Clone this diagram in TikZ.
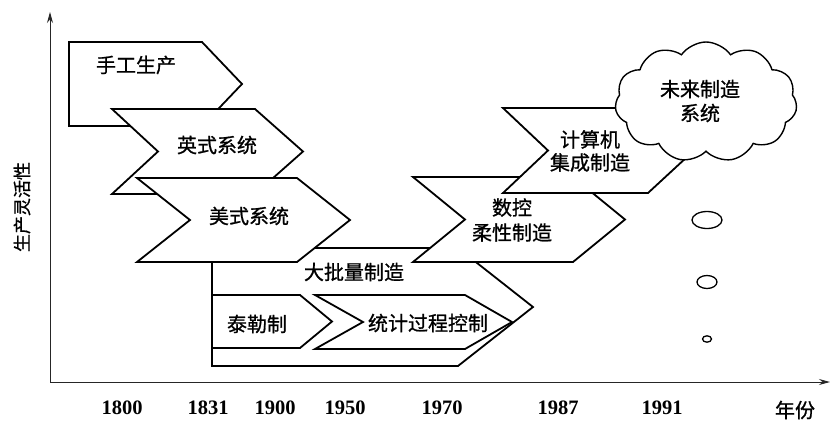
\documentclass[tikz,border=0pt]{standalone}
\usepackage{fontspec}
\setmainfont{Liberation Serif}
\newfontfamily\cjk[AutoFakeBold=0.9]{Noto Sans CJK SC}
\usetikzlibrary{arrows.meta,shapes.symbols}
\begin{document}
\begin{tikzpicture}[x=1pt,y=-1pt,
  shp/.style={draw,line width=1.8pt,fill=white,line join=miter},
  lbl/.style={font=\cjk\bfseries\fontsize{20}{24}\selectfont,inner sep=0pt,align=center},
  yr/.style={font=\fontsize{20.5}{24}\selectfont\bfseries,inner sep=0pt},
  ax/.style={line width=1pt,draw=black!85},
  axtip/.style={-{Stealth[length=11pt,width=6pt]}},
  bubble/.style={draw,line width=1.3pt}]
\useasboundingbox[fill=white] (0,0) rectangle (831,421);

% axes
\coordinate (O) at (50,382);
\coordinate (ytop) at (50,12);
\coordinate (xend) at (830,382);
\draw[ax,axtip] (O) -- (ytop);
\draw[ax,axtip] (O) -- (xend);

% shapes, back to front
\draw[shp] (69,42) -- (202,42) -- (242,84) -- (202,126) -- (69,126) -- cycle;
\draw[shp] (112,109) -- (255,109) -- (303,151.5) -- (255,194) -- (112,194) -- (158,151.5) -- cycle;
\draw[shp] (212,248) -- (458,248) -- (533,307) -- (458,366) -- (212,366) -- cycle;
\draw[shp] (212,295) -- (300,295) -- (332,321.5) -- (300,348) -- (212,348) -- cycle;
\draw[shp] (315,295) -- (465,295) -- (512,322) -- (465,349) -- (315,349) -- (363,322) -- cycle;
\draw[shp] (137,178) -- (297,178) -- (350,220) -- (297,262) -- (137,262) -- (190,220) -- cycle;
\draw[shp] (413,177) -- (573,177) -- (625,219.5) -- (573,262) -- (413,262) -- (465,219.5) -- cycle;
\draw[shp] (503,108) -- (648,108) -- (694,150.5) -- (648,193) -- (503,193) -- (548,150.5) -- cycle;

% cloud
\node[cloud, cloud puffs=11, cloud puff arc=110, aspect=1.5, draw, line width=1.4pt, fill=white,
      minimum width=182pt, minimum height=120pt, inner sep=0pt] (cloud) at (706,102) {};

% bubbles
\draw[bubble] (707,220) ellipse [x radius=15, y radius=8.5];
\draw[bubble] (707,282) ellipse [x radius=10, y radius=6.5];
\draw[bubble] (707,339) ellipse [x radius=4.5, y radius=3.2];

% labels
\node[lbl] (t1) at (136,65) {手工生产};
\node[lbl] (t2) at (217,145) {英式系统};
\node[lbl] (t3) at (249,216) {美式系统};
\node[lbl] (t4) at (354,272) {大批量制造};
\node[lbl] (t5) at (257,324) {泰勒制};
\node[lbl] (t6) at (428,323) {统计过程控制};
\node[lbl,font=\cjk\bfseries\fontsize{20}{25}\selectfont] (t7) at (512,220) {数控\\柔性制造};
\node[lbl,font=\cjk\bfseries\fontsize{20}{23}\selectfont] (t8) at (590,151) {计算机\\集成制造};
\node[lbl] (t9) at (700,101) {未来制造\\系统};

\node[lbl,font=\cjk\bfseries\fontsize{18}{22}\selectfont,rotate=90] (ylab) at (22,207) {生产灵活性};
\node[lbl] (xlab) at (795,410) {年份};

\node[yr] (y1) at (122,408) {1800};
\node[yr] (y2) at (208,408) {1831};
\node[yr] (y3) at (275,408) {1900};
\node[yr] (y4) at (345,408) {1950};
\node[yr] (y5) at (442,408) {1970};
\node[yr] (y6) at (558,408) {1987};
\node[yr] (y7) at (662,408) {1991};
\end{tikzpicture}
\end{document}
